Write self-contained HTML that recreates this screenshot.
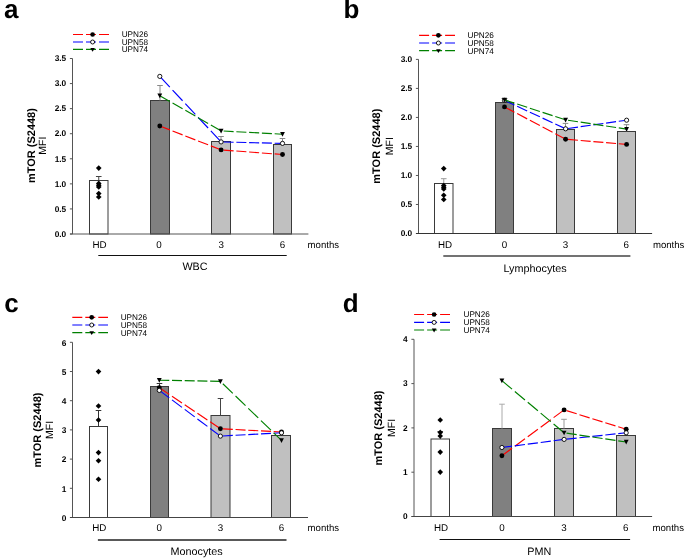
<!DOCTYPE html>
<html><head><meta charset="utf-8"><style>
html,body{margin:0;padding:0;background:#fff;}
svg{display:block;will-change:transform;}
text{font-family:"Liberation Sans", sans-serif;fill:#000;text-rendering:geometricPrecision;}
</style></head><body>
<svg width="685" height="559" viewBox="0 0 685 559">
<rect width="685" height="559" fill="#fff"/>
<text x="3.9" y="18.4" font-size="26" font-weight="bold">a</text>
<line x1="73" y1="34.5" x2="109" y2="34.5" stroke="#ff0000" stroke-width="1.15" stroke-dasharray="10 3"/>
<circle cx="92.60" cy="34.50" r="2.35" fill="#000"/>
<text x="121.7" y="37.40" font-size="8.2">UPN26</text>
<line x1="73" y1="42.0" x2="109" y2="42.0" stroke="#0000ff" stroke-width="1.15" stroke-dasharray="10 3"/>
<circle cx="92.60" cy="42.00" r="2.00" fill="#fff" stroke="#000" stroke-width="0.9"/>
<text x="121.7" y="44.90" font-size="8.2">UPN58</text>
<line x1="73" y1="49.4" x2="109" y2="49.4" stroke="#008000" stroke-width="1.15" stroke-dasharray="10 3"/>
<path d="M90.30,47.95L94.90,47.95L92.60,51.85Z" fill="#000"/>
<text x="121.7" y="52.30" font-size="8.2">UPN74</text>
<rect x="89.50" y="180.50" width="18.50" height="53.50" fill="#ffffff" stroke="#3a3a3a" stroke-width="1"/>
<rect x="150.50" y="100.50" width="19.00" height="133.50" fill="#808080" stroke="#3a3a3a" stroke-width="1"/>
<rect x="211.50" y="141.50" width="19.00" height="92.50" fill="#c0c0c0" stroke="#3a3a3a" stroke-width="1"/>
<rect x="273.50" y="144.50" width="18.00" height="89.50" fill="#c0c0c0" stroke="#3a3a3a" stroke-width="1"/>
<line x1="98.75" y1="176.50" x2="98.75" y2="180.50" stroke="#444" stroke-width="1"/>
<line x1="95.95" y1="176.50" x2="101.55" y2="176.50" stroke="#444" stroke-width="1"/>
<line x1="160.00" y1="85.50" x2="160.00" y2="100.50" stroke="#888" stroke-width="1"/>
<line x1="157.20" y1="85.50" x2="162.80" y2="85.50" stroke="#888" stroke-width="1"/>
<line x1="221.00" y1="136.50" x2="221.00" y2="141.50" stroke="#888" stroke-width="1"/>
<line x1="218.20" y1="136.50" x2="223.80" y2="136.50" stroke="#888" stroke-width="1"/>
<line x1="282.50" y1="138.50" x2="282.50" y2="144.50" stroke="#888" stroke-width="1"/>
<line x1="279.70" y1="138.50" x2="285.30" y2="138.50" stroke="#888" stroke-width="1"/>
<line x1="72.5" y1="58.5" x2="72.5" y2="234.0" stroke="#555" stroke-width="1"/>
<line x1="69.9" y1="234.00" x2="72.5" y2="234.00" stroke="#555" stroke-width="1"/>
<text x="66.2" y="236.75" font-size="8.3" font-weight="bold" text-anchor="end">0.0</text>
<line x1="69.9" y1="208.93" x2="72.5" y2="208.93" stroke="#555" stroke-width="1"/>
<text x="66.2" y="211.68" font-size="8.3" font-weight="bold" text-anchor="end">0.5</text>
<line x1="69.9" y1="183.86" x2="72.5" y2="183.86" stroke="#555" stroke-width="1"/>
<text x="66.2" y="186.61" font-size="8.3" font-weight="bold" text-anchor="end">1.0</text>
<line x1="69.9" y1="158.79" x2="72.5" y2="158.79" stroke="#555" stroke-width="1"/>
<text x="66.2" y="161.54" font-size="8.3" font-weight="bold" text-anchor="end">1.5</text>
<line x1="69.9" y1="133.71" x2="72.5" y2="133.71" stroke="#555" stroke-width="1"/>
<text x="66.2" y="136.46" font-size="8.3" font-weight="bold" text-anchor="end">2.0</text>
<line x1="69.9" y1="108.64" x2="72.5" y2="108.64" stroke="#555" stroke-width="1"/>
<text x="66.2" y="111.39" font-size="8.3" font-weight="bold" text-anchor="end">2.5</text>
<line x1="69.9" y1="83.57" x2="72.5" y2="83.57" stroke="#555" stroke-width="1"/>
<text x="66.2" y="86.32" font-size="8.3" font-weight="bold" text-anchor="end">3.0</text>
<line x1="69.9" y1="58.50" x2="72.5" y2="58.50" stroke="#555" stroke-width="1"/>
<text x="66.2" y="61.25" font-size="8.3" font-weight="bold" text-anchor="end">3.5</text>
<line x1="70.0" y1="234.0" x2="308.4" y2="234.0" stroke="#555" stroke-width="1"/>
<path d="M98.75,165.30L101.55,168.10L98.75,170.90L95.95,168.10Z" fill="#000"/>
<path d="M98.75,180.60L101.55,183.40L98.75,186.20L95.95,183.40Z" fill="#000"/>
<path d="M98.75,182.40L101.55,185.20L98.75,188.00L95.95,185.20Z" fill="#000"/>
<path d="M98.75,184.20L101.55,187.00L98.75,189.80L95.95,187.00Z" fill="#000"/>
<path d="M98.75,190.80L101.55,193.60L98.75,196.40L95.95,193.60Z" fill="#000"/>
<path d="M98.75,194.20L101.55,197.00L98.75,199.80L95.95,197.00Z" fill="#000"/>
<line x1="159.80" y1="126.00" x2="221.10" y2="149.90" stroke="#ff0000" stroke-width="1.15" stroke-dasharray="10.752 2.945" stroke-dashoffset="0.000"/>
<line x1="221.10" y1="149.90" x2="282.50" y2="154.50" stroke="#ff0000" stroke-width="1.15" stroke-dasharray="10.045 2.751" stroke-dashoffset="10.286"/>
<circle cx="159.80" cy="126.00" r="2.45" fill="#000"/>
<circle cx="221.10" cy="149.90" r="2.45" fill="#000"/>
<circle cx="282.50" cy="154.50" r="2.45" fill="#000"/>
<line x1="159.80" y1="76.40" x2="221.10" y2="141.90" stroke="#0000ff" stroke-width="1.15" stroke-dasharray="14.660 4.015" stroke-dashoffset="0.000"/>
<line x1="221.10" y1="141.90" x2="282.50" y2="143.40" stroke="#0000ff" stroke-width="1.15" stroke-dasharray="10.020 2.744" stroke-dashoffset="10.260"/>
<circle cx="159.80" cy="76.40" r="2.10" fill="#fff" stroke="#000" stroke-width="0.9"/>
<circle cx="221.10" cy="141.90" r="2.10" fill="#fff" stroke="#000" stroke-width="0.9"/>
<circle cx="282.50" cy="143.40" r="2.10" fill="#fff" stroke="#000" stroke-width="0.9"/>
<line x1="159.80" y1="95.70" x2="221.10" y2="130.90" stroke="#008000" stroke-width="1.15" stroke-dasharray="11.551 3.164" stroke-dashoffset="0.000"/>
<line x1="221.10" y1="130.90" x2="282.50" y2="134.20" stroke="#008000" stroke-width="1.15" stroke-dasharray="10.032 2.748" stroke-dashoffset="10.272"/>
<path d="M157.40,93.55L162.20,93.55L159.80,98.25Z" fill="#000"/>
<path d="M218.70,128.75L223.50,128.75L221.10,133.45Z" fill="#000"/>
<path d="M280.10,132.05L284.90,132.05L282.50,136.75Z" fill="#000"/>
<text x="99.60" y="247.8" font-size="9.8" text-anchor="middle">HD</text>
<text x="158.90" y="247.8" font-size="9.8" text-anchor="middle">0</text>
<text x="221.20" y="247.8" font-size="9.8" text-anchor="middle">3</text>
<text x="282.60" y="247.8" font-size="9.8" text-anchor="middle">6</text>
<text x="307.6" y="247.8" font-size="9.6">months</text>
<line x1="98.3" y1="255.5" x2="286.7" y2="255.5" stroke="#111" stroke-width="1.2"/>
<text x="182.4" y="269.9" font-size="10.8">WBC</text>
<text transform="translate(34.6,145.6) rotate(-90)" font-size="11" font-weight="bold" text-anchor="middle">mTOR (S2448)</text>
<text transform="translate(46.2,145.6) rotate(-90)" font-size="10.5" text-anchor="middle">MFI</text>
<text x="343.4" y="18.1" font-size="26" font-weight="bold">b</text>
<line x1="419.1" y1="35.3" x2="455" y2="35.3" stroke="#ff0000" stroke-width="1.15" stroke-dasharray="10 3"/>
<circle cx="438.40" cy="35.30" r="2.35" fill="#000"/>
<text x="467.5" y="38.20" font-size="8.2">UPN26</text>
<line x1="419.1" y1="43.0" x2="455" y2="43.0" stroke="#0000ff" stroke-width="1.15" stroke-dasharray="10 3"/>
<circle cx="438.40" cy="43.00" r="2.00" fill="#fff" stroke="#000" stroke-width="0.9"/>
<text x="467.5" y="45.90" font-size="8.2">UPN58</text>
<line x1="419.1" y1="50.6" x2="455" y2="50.6" stroke="#008000" stroke-width="1.15" stroke-dasharray="10 3"/>
<path d="M436.10,49.15L440.70,49.15L438.40,53.05Z" fill="#000"/>
<text x="467.5" y="53.50" font-size="8.2">UPN74</text>
<rect x="434.50" y="183.50" width="18.50" height="50.00" fill="#ffffff" stroke="#3a3a3a" stroke-width="1"/>
<rect x="495.50" y="102.50" width="18.00" height="131.00" fill="#808080" stroke="#3a3a3a" stroke-width="1"/>
<rect x="556.50" y="129.50" width="18.00" height="104.00" fill="#c0c0c0" stroke="#3a3a3a" stroke-width="1"/>
<rect x="617.50" y="131.50" width="18.00" height="102.00" fill="#c0c0c0" stroke="#3a3a3a" stroke-width="1"/>
<line x1="443.75" y1="178.70" x2="443.75" y2="183.50" stroke="#999" stroke-width="1"/>
<line x1="440.95" y1="178.70" x2="446.55" y2="178.70" stroke="#999" stroke-width="1"/>
<line x1="504.50" y1="98.50" x2="504.50" y2="102.50" stroke="#555" stroke-width="1"/>
<line x1="501.70" y1="98.50" x2="507.30" y2="98.50" stroke="#555" stroke-width="1"/>
<line x1="565.50" y1="123.40" x2="565.50" y2="129.50" stroke="#888" stroke-width="1"/>
<line x1="562.70" y1="123.40" x2="568.30" y2="123.40" stroke="#888" stroke-width="1"/>
<line x1="626.50" y1="124.70" x2="626.50" y2="131.50" stroke="#888" stroke-width="1"/>
<line x1="623.70" y1="124.70" x2="629.30" y2="124.70" stroke="#888" stroke-width="1"/>
<line x1="418.5" y1="59.4" x2="418.5" y2="233.5" stroke="#555" stroke-width="1"/>
<line x1="415.9" y1="233.50" x2="418.5" y2="233.50" stroke="#555" stroke-width="1"/>
<text x="412.2" y="236.25" font-size="8.3" font-weight="bold" text-anchor="end">0.0</text>
<line x1="415.9" y1="204.48" x2="418.5" y2="204.48" stroke="#555" stroke-width="1"/>
<text x="412.2" y="207.23" font-size="8.3" font-weight="bold" text-anchor="end">0.5</text>
<line x1="415.9" y1="175.47" x2="418.5" y2="175.47" stroke="#555" stroke-width="1"/>
<text x="412.2" y="178.22" font-size="8.3" font-weight="bold" text-anchor="end">1.0</text>
<line x1="415.9" y1="146.45" x2="418.5" y2="146.45" stroke="#555" stroke-width="1"/>
<text x="412.2" y="149.20" font-size="8.3" font-weight="bold" text-anchor="end">1.5</text>
<line x1="415.9" y1="117.43" x2="418.5" y2="117.43" stroke="#555" stroke-width="1"/>
<text x="412.2" y="120.18" font-size="8.3" font-weight="bold" text-anchor="end">2.0</text>
<line x1="415.9" y1="88.42" x2="418.5" y2="88.42" stroke="#555" stroke-width="1"/>
<text x="412.2" y="91.17" font-size="8.3" font-weight="bold" text-anchor="end">2.5</text>
<line x1="415.9" y1="59.40" x2="418.5" y2="59.40" stroke="#555" stroke-width="1"/>
<text x="412.2" y="62.15" font-size="8.3" font-weight="bold" text-anchor="end">3.0</text>
<line x1="416.0" y1="233.5" x2="652.1" y2="233.5" stroke="#333" stroke-width="1"/>
<path d="M443.75,165.80L446.55,168.60L443.75,171.40L440.95,168.60Z" fill="#000"/>
<path d="M443.75,182.70L446.55,185.50L443.75,188.30L440.95,185.50Z" fill="#000"/>
<path d="M443.75,184.40L446.55,187.20L443.75,190.00L440.95,187.20Z" fill="#000"/>
<path d="M443.75,186.20L446.55,189.00L443.75,191.80L440.95,189.00Z" fill="#000"/>
<path d="M443.75,192.50L446.55,195.30L443.75,198.10L440.95,195.30Z" fill="#000"/>
<path d="M443.75,196.70L446.55,199.50L443.75,202.30L440.95,199.50Z" fill="#000"/>
<line x1="504.50" y1="106.90" x2="565.60" y2="139.20" stroke="#ff0000" stroke-width="1.15" stroke-dasharray="11.275 3.088" stroke-dashoffset="0.000"/>
<line x1="565.60" y1="139.20" x2="626.60" y2="144.40" stroke="#ff0000" stroke-width="1.15" stroke-dasharray="10.004 2.740" stroke-dashoffset="10.344"/>
<circle cx="504.50" cy="106.90" r="2.45" fill="#000"/>
<circle cx="565.60" cy="139.20" r="2.45" fill="#000"/>
<circle cx="626.60" cy="144.40" r="2.45" fill="#000"/>
<line x1="504.50" y1="100.40" x2="565.60" y2="128.80" stroke="#0000ff" stroke-width="1.15" stroke-dasharray="10.992 3.011" stroke-dashoffset="0.000"/>
<line x1="565.60" y1="128.80" x2="626.60" y2="120.20" stroke="#0000ff" stroke-width="1.15" stroke-dasharray="10.067 2.757" stroke-dashoffset="10.408"/>
<circle cx="504.50" cy="100.40" r="2.10" fill="#fff" stroke="#000" stroke-width="0.9"/>
<circle cx="565.60" cy="128.80" r="2.10" fill="#fff" stroke="#000" stroke-width="0.9"/>
<circle cx="626.60" cy="120.20" r="2.10" fill="#fff" stroke="#000" stroke-width="0.9"/>
<line x1="504.50" y1="99.90" x2="565.60" y2="119.90" stroke="#008000" stroke-width="1.15" stroke-dasharray="10.489 2.873" stroke-dashoffset="0.000"/>
<line x1="565.60" y1="119.90" x2="626.60" y2="129.10" stroke="#008000" stroke-width="1.15" stroke-dasharray="10.081 2.761" stroke-dashoffset="10.423"/>
<path d="M502.10,97.75L506.90,97.75L504.50,102.45Z" fill="#000"/>
<path d="M563.20,117.75L568.00,117.75L565.60,122.45Z" fill="#000"/>
<path d="M624.20,126.95L629.00,126.95L626.60,131.65Z" fill="#000"/>
<text x="445.00" y="247.5" font-size="9.8" text-anchor="middle">HD</text>
<text x="504.50" y="247.5" font-size="9.8" text-anchor="middle">0</text>
<text x="565.50" y="247.5" font-size="9.8" text-anchor="middle">3</text>
<text x="626.30" y="247.5" font-size="9.8" text-anchor="middle">6</text>
<text x="652.9" y="247.5" font-size="9.6">months</text>
<line x1="443.3" y1="256.0" x2="630.4" y2="256.0" stroke="#444" stroke-width="1.7"/>
<text x="503.5" y="271.9" font-size="10.8">Lymphocytes</text>
<text transform="translate(380.4,146.2) rotate(-90)" font-size="11" font-weight="bold" text-anchor="middle">mTOR (S2448)</text>
<text transform="translate(392.6,146.2) rotate(-90)" font-size="10.5" text-anchor="middle">MFI</text>
<text x="4.3" y="311.6" font-size="26" font-weight="bold">c</text>
<line x1="72.3" y1="317.3" x2="108" y2="317.3" stroke="#ff0000" stroke-width="1.15" stroke-dasharray="10 3"/>
<circle cx="91.70" cy="317.30" r="2.35" fill="#000"/>
<text x="120.7" y="320.20" font-size="8.2">UPN26</text>
<line x1="72.3" y1="325.0" x2="108" y2="325.0" stroke="#0000ff" stroke-width="1.15" stroke-dasharray="10 3"/>
<circle cx="91.70" cy="325.00" r="2.00" fill="#fff" stroke="#000" stroke-width="0.9"/>
<text x="120.7" y="327.90" font-size="8.2">UPN58</text>
<line x1="72.3" y1="332.6" x2="108" y2="332.6" stroke="#008000" stroke-width="1.15" stroke-dasharray="10 3"/>
<path d="M89.40,331.15L94.00,331.15L91.70,335.05Z" fill="#000"/>
<text x="120.7" y="335.50" font-size="8.2">UPN74</text>
<rect x="89.50" y="426.50" width="18.00" height="91.00" fill="#ffffff" stroke="#3a3a3a" stroke-width="1"/>
<rect x="150.50" y="386.50" width="18.00" height="131.00" fill="#808080" stroke="#3a3a3a" stroke-width="1"/>
<rect x="211.00" y="415.50" width="19.00" height="102.00" fill="#c0c0c0" stroke="#3a3a3a" stroke-width="1"/>
<rect x="271.50" y="435.50" width="19.00" height="82.00" fill="#c0c0c0" stroke="#3a3a3a" stroke-width="1"/>
<line x1="98.50" y1="410.50" x2="98.50" y2="426.50" stroke="#333" stroke-width="1"/>
<line x1="95.70" y1="410.50" x2="101.30" y2="410.50" stroke="#333" stroke-width="1"/>
<line x1="159.50" y1="383.50" x2="159.50" y2="386.50" stroke="#333" stroke-width="1"/>
<line x1="156.70" y1="383.50" x2="162.30" y2="383.50" stroke="#333" stroke-width="1"/>
<line x1="220.50" y1="398.50" x2="220.50" y2="415.50" stroke="#444" stroke-width="1"/>
<line x1="217.70" y1="398.50" x2="223.30" y2="398.50" stroke="#444" stroke-width="1"/>
<line x1="72.5" y1="342.3" x2="72.5" y2="517.5" stroke="#555" stroke-width="1"/>
<line x1="69.9" y1="517.50" x2="72.5" y2="517.50" stroke="#555" stroke-width="1"/>
<text x="66.4" y="520.70" font-size="8.3" font-weight="bold" text-anchor="end">0</text>
<line x1="69.9" y1="488.30" x2="72.5" y2="488.30" stroke="#555" stroke-width="1"/>
<text x="66.4" y="491.50" font-size="8.3" font-weight="bold" text-anchor="end">1</text>
<line x1="69.9" y1="459.10" x2="72.5" y2="459.10" stroke="#555" stroke-width="1"/>
<text x="66.4" y="462.30" font-size="8.3" font-weight="bold" text-anchor="end">2</text>
<line x1="69.9" y1="429.90" x2="72.5" y2="429.90" stroke="#555" stroke-width="1"/>
<text x="66.4" y="433.10" font-size="8.3" font-weight="bold" text-anchor="end">3</text>
<line x1="69.9" y1="400.70" x2="72.5" y2="400.70" stroke="#555" stroke-width="1"/>
<text x="66.4" y="403.90" font-size="8.3" font-weight="bold" text-anchor="end">4</text>
<line x1="69.9" y1="371.50" x2="72.5" y2="371.50" stroke="#555" stroke-width="1"/>
<text x="66.4" y="374.70" font-size="8.3" font-weight="bold" text-anchor="end">5</text>
<line x1="69.9" y1="342.30" x2="72.5" y2="342.30" stroke="#555" stroke-width="1"/>
<text x="66.4" y="345.50" font-size="8.3" font-weight="bold" text-anchor="end">6</text>
<line x1="70.0" y1="517.5" x2="308.0" y2="517.5" stroke="#444" stroke-width="1"/>
<path d="M98.50,368.80L101.30,371.60L98.50,374.40L95.70,371.60Z" fill="#000"/>
<path d="M98.50,403.20L101.30,406.00L98.50,408.80L95.70,406.00Z" fill="#000"/>
<path d="M98.50,417.20L101.30,420.00L98.50,422.80L95.70,420.00Z" fill="#000"/>
<path d="M98.50,449.80L101.30,452.60L98.50,455.40L95.70,452.60Z" fill="#000"/>
<path d="M98.50,457.90L101.30,460.70L98.50,463.50L95.70,460.70Z" fill="#000"/>
<path d="M98.50,476.50L101.30,479.30L98.50,482.10L95.70,479.30Z" fill="#000"/>
<line x1="159.30" y1="387.70" x2="220.40" y2="428.70" stroke="#ff0000" stroke-width="1.15" stroke-dasharray="12.014 3.291" stroke-dashoffset="0.000"/>
<line x1="220.40" y1="428.70" x2="281.50" y2="432.00" stroke="#ff0000" stroke-width="1.15" stroke-dasharray="9.991 2.736" stroke-dashoffset="10.280"/>
<circle cx="159.30" cy="387.70" r="2.45" fill="#000"/>
<circle cx="220.40" cy="428.70" r="2.45" fill="#000"/>
<circle cx="281.50" cy="432.00" r="2.45" fill="#000"/>
<line x1="159.30" y1="390.40" x2="220.40" y2="436.10" stroke="#0000ff" stroke-width="1.15" stroke-dasharray="12.458 3.412" stroke-dashoffset="0.000"/>
<line x1="220.40" y1="436.10" x2="281.50" y2="432.80" stroke="#0000ff" stroke-width="1.15" stroke-dasharray="9.991 2.736" stroke-dashoffset="10.280"/>
<circle cx="159.30" cy="390.40" r="2.10" fill="#fff" stroke="#000" stroke-width="0.9"/>
<circle cx="220.40" cy="436.10" r="2.10" fill="#fff" stroke="#000" stroke-width="0.9"/>
<circle cx="281.50" cy="432.80" r="2.10" fill="#fff" stroke="#000" stroke-width="0.9"/>
<line x1="159.30" y1="380.20" x2="220.40" y2="381.40" stroke="#008000" stroke-width="1.15" stroke-dasharray="9.978 2.733" stroke-dashoffset="0.000"/>
<line x1="220.40" y1="381.40" x2="281.50" y2="440.40" stroke="#008000" stroke-width="1.15" stroke-dasharray="13.868 3.798" stroke-dashoffset="14.269"/>
<path d="M156.90,378.05L161.70,378.05L159.30,382.75Z" fill="#000"/>
<path d="M218.00,379.25L222.80,379.25L220.40,383.95Z" fill="#000"/>
<path d="M279.10,438.25L283.90,438.25L281.50,442.95Z" fill="#000"/>
<text x="99.30" y="530.9" font-size="9.8" text-anchor="middle">HD</text>
<text x="159.30" y="530.9" font-size="9.8" text-anchor="middle">0</text>
<text x="220.50" y="530.9" font-size="9.8" text-anchor="middle">3</text>
<text x="281.50" y="530.9" font-size="9.8" text-anchor="middle">6</text>
<text x="307.6" y="530.9" font-size="9.6">months</text>
<line x1="97.9" y1="540.0" x2="286.5" y2="540.0" stroke="#222" stroke-width="1.3"/>
<text x="170.5" y="554.8" font-size="10.8">Monocytes</text>
<text transform="translate(40.8,430.0) rotate(-90)" font-size="11" font-weight="bold" text-anchor="middle">mTOR (S2448)</text>
<text transform="translate(53.0,430.0) rotate(-90)" font-size="10.5" text-anchor="middle">MFI</text>
<text x="342.8" y="311.6" font-size="26" font-weight="bold">d</text>
<line x1="414.1" y1="314.5" x2="450" y2="314.5" stroke="#ff0000" stroke-width="1.15" stroke-dasharray="10 3"/>
<circle cx="434.10" cy="314.50" r="2.35" fill="#000"/>
<text x="463.5" y="317.40" font-size="8.2">UPN26</text>
<line x1="414.1" y1="322.4" x2="450" y2="322.4" stroke="#0000ff" stroke-width="1.15" stroke-dasharray="10 3"/>
<circle cx="434.10" cy="322.40" r="2.00" fill="#fff" stroke="#000" stroke-width="0.9"/>
<text x="463.5" y="325.30" font-size="8.2">UPN58</text>
<line x1="414.1" y1="330.0" x2="450" y2="330.0" stroke="#008000" stroke-width="1.15" stroke-dasharray="10 3"/>
<path d="M431.80,328.55L436.40,328.55L434.10,332.45Z" fill="#000"/>
<text x="463.5" y="332.90" font-size="8.2">UPN74</text>
<rect x="431.00" y="439.00" width="18.50" height="77.50" fill="#ffffff" stroke="#3a3a3a" stroke-width="1"/>
<rect x="492.50" y="428.50" width="19.00" height="88.00" fill="#808080" stroke="#3a3a3a" stroke-width="1"/>
<rect x="554.50" y="428.50" width="19.00" height="88.00" fill="#c0c0c0" stroke="#3a3a3a" stroke-width="1"/>
<rect x="616.50" y="435.50" width="19.00" height="81.00" fill="#c0c0c0" stroke="#3a3a3a" stroke-width="1"/>
<line x1="440.25" y1="431.50" x2="440.25" y2="439.00" stroke="#444" stroke-width="1"/>
<line x1="437.45" y1="431.50" x2="443.05" y2="431.50" stroke="#444" stroke-width="1"/>
<line x1="502.00" y1="404.20" x2="502.00" y2="428.50" stroke="#aaa" stroke-width="1"/>
<line x1="499.20" y1="404.20" x2="504.80" y2="404.20" stroke="#aaa" stroke-width="1"/>
<line x1="564.00" y1="419.30" x2="564.00" y2="428.50" stroke="#999" stroke-width="1"/>
<line x1="561.20" y1="419.30" x2="566.80" y2="419.30" stroke="#999" stroke-width="1"/>
<line x1="414.0" y1="339.3" x2="414.0" y2="516.5" stroke="#555" stroke-width="1"/>
<line x1="411.4" y1="516.50" x2="414.0" y2="516.50" stroke="#555" stroke-width="1"/>
<text x="407.6" y="519.25" font-size="8.3" font-weight="bold" text-anchor="end">0</text>
<line x1="411.4" y1="472.20" x2="414.0" y2="472.20" stroke="#555" stroke-width="1"/>
<text x="407.6" y="474.95" font-size="8.3" font-weight="bold" text-anchor="end">1</text>
<line x1="411.4" y1="427.90" x2="414.0" y2="427.90" stroke="#555" stroke-width="1"/>
<text x="407.6" y="430.65" font-size="8.3" font-weight="bold" text-anchor="end">2</text>
<line x1="411.4" y1="383.60" x2="414.0" y2="383.60" stroke="#555" stroke-width="1"/>
<text x="407.6" y="386.35" font-size="8.3" font-weight="bold" text-anchor="end">3</text>
<line x1="411.4" y1="339.30" x2="414.0" y2="339.30" stroke="#555" stroke-width="1"/>
<text x="407.6" y="342.05" font-size="8.3" font-weight="bold" text-anchor="end">4</text>
<line x1="411.5" y1="516.5" x2="652.1" y2="516.5" stroke="#444" stroke-width="1"/>
<path d="M440.25,417.20L443.05,420.00L440.25,422.80L437.45,420.00Z" fill="#000"/>
<path d="M440.25,429.60L443.05,432.40L440.25,435.20L437.45,432.40Z" fill="#000"/>
<path d="M440.25,433.20L443.05,436.00L440.25,438.80L437.45,436.00Z" fill="#000"/>
<path d="M440.25,449.30L443.05,452.10L440.25,454.90L437.45,452.10Z" fill="#000"/>
<path d="M440.25,469.30L443.05,472.10L440.25,474.90L437.45,472.10Z" fill="#000"/>
<line x1="501.90" y1="455.80" x2="564.10" y2="409.90" stroke="#ff0000" stroke-width="1.15" stroke-dasharray="12.612 3.454" stroke-dashoffset="0.000"/>
<line x1="564.10" y1="409.90" x2="626.20" y2="429.20" stroke="#ff0000" stroke-width="1.15" stroke-dasharray="10.627 2.910" stroke-dashoffset="10.986"/>
<circle cx="501.90" cy="455.80" r="2.45" fill="#000"/>
<circle cx="564.10" cy="409.90" r="2.45" fill="#000"/>
<circle cx="626.20" cy="429.20" r="2.45" fill="#000"/>
<line x1="501.90" y1="447.50" x2="564.10" y2="439.40" stroke="#0000ff" stroke-width="1.15" stroke-dasharray="10.234 2.803" stroke-dashoffset="0.000"/>
<line x1="564.10" y1="439.40" x2="626.20" y2="432.80" stroke="#0000ff" stroke-width="1.15" stroke-dasharray="10.205 2.795" stroke-dashoffset="10.550"/>
<circle cx="501.90" cy="447.50" r="2.10" fill="#fff" stroke="#000" stroke-width="0.9"/>
<circle cx="564.10" cy="439.40" r="2.10" fill="#fff" stroke="#000" stroke-width="0.9"/>
<circle cx="626.20" cy="432.80" r="2.10" fill="#fff" stroke="#000" stroke-width="0.9"/>
<line x1="501.90" y1="380.60" x2="564.10" y2="432.80" stroke="#008000" stroke-width="1.15" stroke-dasharray="13.248 3.628" stroke-dashoffset="0.000"/>
<line x1="564.10" y1="432.80" x2="626.20" y2="442.00" stroke="#008000" stroke-width="1.15" stroke-dasharray="10.259 2.810" stroke-dashoffset="10.606"/>
<path d="M499.50,378.45L504.30,378.45L501.90,383.15Z" fill="#000"/>
<path d="M561.70,430.65L566.50,430.65L564.10,435.35Z" fill="#000"/>
<path d="M623.80,439.85L628.60,439.85L626.20,444.55Z" fill="#000"/>
<text x="441.00" y="530.6" font-size="9.8" text-anchor="middle">HD</text>
<text x="502.00" y="530.6" font-size="9.8" text-anchor="middle">0</text>
<text x="564.00" y="530.6" font-size="9.8" text-anchor="middle">3</text>
<text x="625.70" y="530.6" font-size="9.8" text-anchor="middle">6</text>
<text x="652.5" y="530.6" font-size="9.6">months</text>
<line x1="439.6" y1="539.5" x2="630.1" y2="539.5" stroke="#111" stroke-width="1.2"/>
<text x="527.2" y="554.8" font-size="10.8">PMN</text>
<text transform="translate(381.6,428.0) rotate(-90)" font-size="11" font-weight="bold" text-anchor="middle">mTOR (S2448)</text>
<text transform="translate(394.6,428.0) rotate(-90)" font-size="10.5" text-anchor="middle">MFI</text>
</svg>
</body></html>
